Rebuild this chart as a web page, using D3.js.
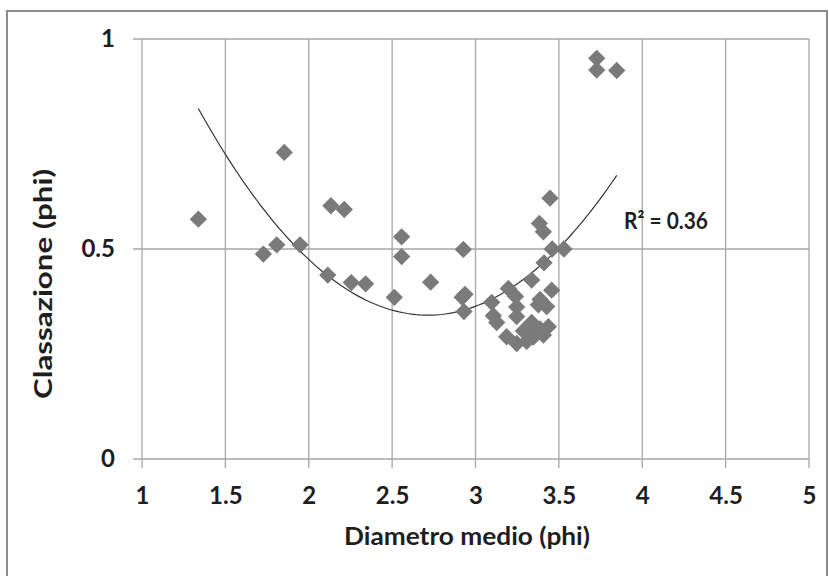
<!DOCTYPE html>
<html>
<head>
<meta charset="utf-8">
<script src="https://cdn.jsdelivr.net/npm/d3@7/dist/d3.min.js"></script>
<style>
  html, body { margin: 0; padding: 0; background: #fff; }
  svg { display: block; }
  text { font-family: Lato, "Open Sans", sans-serif; font-weight: bold; fill: #1e1e1e; }
</style>
</head>
<body>
<svg id="chart" width="829" height="576"></svg>
<script>
// ---- data ----
const xValues = [
  1.338, 1.728, 1.808, 1.853, 1.948, 2.114, 2.133, 2.213, 2.255, 2.341,
  2.513, 2.557, 2.557, 2.731, 2.927, 2.920, 2.937, 2.931, 3.097, 3.107,
  3.127, 3.187, 3.197, 3.240, 3.247, 3.247, 3.247, 3.287, 3.307, 3.317,
  3.337, 3.337, 3.347, 3.377, 3.387, 3.387, 3.407, 3.383, 3.411, 3.407,
  3.427, 3.437, 3.447, 3.460, 3.457, 3.530, 3.727, 3.727, 3.847
];
const yValues = [
  0.571, 0.488, 0.510, 0.730, 0.510, 0.438, 0.603, 0.594, 0.420, 0.417,
  0.385, 0.529, 0.482, 0.421, 0.499, 0.385, 0.392, 0.351, 0.373, 0.341,
  0.325, 0.291, 0.406, 0.387, 0.362, 0.339, 0.275, 0.305, 0.280, 0.295,
  0.426, 0.325, 0.290, 0.367, 0.380, 0.310, 0.541, 0.561, 0.467, 0.295,
  0.363, 0.315, 0.621, 0.500, 0.402, 0.500, 0.954, 0.926, 0.925
];
const xTicks = [1, 1.5, 2, 2.5, 3, 3.5, 4, 4.5, 5];
const yTicks = [0, 0.5, 1];
const xTitle = "Diametro medio (phi)";
const yTitle = "Classazione (phi)";
const r2Label = "R\u00B2 = 0.36";

// ---- layout ----
const svg = d3.select("#chart");
const x = d3.scaleLinear().domain([1, 5]).range([142, 809]);
const y = d3.scaleLinear().domain([0, 1]).range([459, 39]);
const gridColor = "#a6a6a6";
const tickLen = 9;

// outer frame (bottom edge lies outside the picture)
svg.append("rect")
  .attr("x", 7).attr("y", 11).attr("width", 820).attr("height", 600)
  .attr("fill", "none").attr("stroke", "#8c8c8c").attr("stroke-width", 2);

// vertical gridlines (with tick extension below)
svg.append("g").selectAll("line").data(xTicks).join("line")
  .attr("x1", d => x(d)).attr("x2", d => x(d))
  .attr("y1", y(1)).attr("y2", y(0) + tickLen)
  .attr("stroke", gridColor).attr("stroke-width", 1.3);

// horizontal gridlines (with tick extension left)
svg.append("g").selectAll("line").data(yTicks).join("line")
  .attr("x1", x(1) - tickLen).attr("x2", x(5))
  .attr("y1", d => y(d)).attr("y2", d => y(d))
  .attr("stroke", gridColor).attr("stroke-width", 1.3);

// tick labels via d3 axes
const xAxis = svg.append("g")
  .attr("transform", `translate(0,${y(0)})`)
  .call(d3.axisBottom(x).tickValues(xTicks).tickSize(0).tickPadding(28).tickFormat(d3.format("")));
xAxis.select(".domain").remove();
xAxis.selectAll("text").attr("font-size", 24).style("font-family", "Lato, sans-serif").attr("fill", "#1e1e1e");

const yAxis = svg.append("g")
  .attr("transform", `translate(${x(1)},0)`)
  .call(d3.axisLeft(y).tickValues(yTicks).tickSize(0).tickPadding(27).tickFormat(d3.format("")));
yAxis.select(".domain").remove();
yAxis.selectAll("text").attr("font-size", 24).style("font-family", "Lato, sans-serif").attr("fill", "#1e1e1e");

// quadratic least-squares trendline computed from the points
const pts = xValues.map((v, i) => [v, yValues[i]]);
function quadFit(p) {
  let s = [0,0,0,0,0], t = [0,0,0];
  p.forEach(([a, b]) => {
    let pw = 1;
    for (let k = 0; k < 5; k++) { s[k] += pw; if (k < 3) t[k] += pw * b; pw *= a; }
  });
  const M = [[s[0], s[1], s[2], t[0]], [s[1], s[2], s[3], t[1]], [s[2], s[3], s[4], t[2]]];
  for (let i = 0; i < 3; i++) {
    for (let j = i + 1; j < 3; j++) {
      const f = M[j][i] / M[i][i];
      for (let k = i; k < 4; k++) M[j][k] -= f * M[i][k];
    }
  }
  const c = [0,0,0];
  for (let i = 2; i >= 0; i--) {
    let v = M[i][3];
    for (let k = i + 1; k < 3; k++) v -= M[i][k] * c[k];
    c[i] = v / M[i][i];
  }
  return c;
}
const coef = quadFit(pts);
const [xmin, xmax] = d3.extent(xValues);
const curveXs = d3.range(0, 101).map(i => xmin + (xmax - xmin) * i / 100);
svg.append("path")
  .datum(curveXs)
  .attr("fill", "none").attr("stroke", "#333").attr("stroke-width", 1.2)
  .attr("d", d3.line().x(d => x(d)).y(d => y(coef[0] + coef[1] * d + coef[2] * d * d)));

// diamond markers
svg.append("g").selectAll("path").data(pts).join("path")
  .attr("d", d3.symbol().type(d3.symbolSquare).size(150))
  .attr("transform", d => `translate(${x(d[0])},${y(d[1])}) rotate(45)`)
  .attr("fill", "#7a7a7a");

// R² label
svg.append("text")
  .attr("x", 624).attr("y", 229)
  .attr("font-size", 23)
  .attr("textLength", 84).attr("lengthAdjust", "spacingAndGlyphs")
  .text(r2Label);

// axis titles
svg.append("text")
  .attr("x", 467).attr("y", 545)
  .attr("text-anchor", "middle").attr("font-size", 24)
  .attr("textLength", 246).attr("lengthAdjust", "spacingAndGlyphs")
  .text(xTitle);

svg.append("text")
  .attr("transform", `translate(52,284) rotate(-90)`)
  .attr("text-anchor", "middle").attr("font-size", 24)
  .attr("textLength", 230).attr("lengthAdjust", "spacingAndGlyphs")
  .text(yTitle);
</script>
</body>
</html>
